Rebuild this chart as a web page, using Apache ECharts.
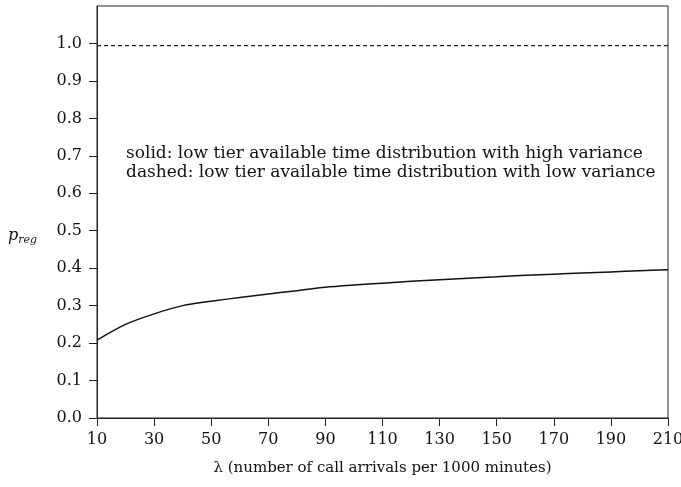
<!DOCTYPE html>
<html>
<head>
<meta charset="utf-8">
<script src="https://cdn.jsdelivr.net/npm/echarts@6/dist/echarts.min.js"></script>
<style>html,body{margin:0;padding:0;background:#fff;}#c{width:681px;height:487px;}</style>
</head>
<body>
<div id="c"></div>
<script>
const lambdaValues = [10,20,30,40,50,60,70,80,90,100,110,120,130,140,150,160,170,180,190,200,210];
const solidValues = [0.208,0.250,0.278,0.300,0.312,0.322,0.331,0.340,0.349,0.355,0.360,0.365,0.369,0.373,0.377,0.381,0.384,0.387,0.390,0.393,0.396];
const dashedValues = [0.994,0.994,0.994,0.994,0.994,0.994,0.994,0.994,0.994,0.994,0.994,0.994,0.994,0.994,0.994,0.994,0.994,0.994,0.994,0.994,0.994];
const xTicks = [10,30,50,70,90,110,130,150,170,190,210];
const yTicks = [0,0.1,0.2,0.3,0.4,0.5,0.6,0.7,0.8,0.9,1.0];
const annotationLines = [
  'solid: low tier available time distribution with high variance',
  'dashed: low tier available time distribution with low variance'
];
const xTitle = 'λ (number of call arrivals per 1000 minutes)';

const FONT = 'DejaVu Serif';
const chart = echarts.init(document.getElementById('c'), null, {renderer: 'canvas'});
chart.setOption({
  animation: false,
  backgroundColor: '#fff',
  grid: {left: 97, right: 13, top: 6, bottom: 69, show: true, borderColor: '#222', borderWidth: 1,
    containLabel: false, outerBoundsMode: 'none'},
  xAxis: {
    type: 'value', min: 10, max: 210,
    axisLine: {show: true, onZero: false, lineStyle: {color: '#222', width: 1}},
    axisTick: {show: true, inside: false, length: 8, customValues: xTicks, lineStyle: {color: '#222'}},
    axisLabel: {customValues: xTicks, color: '#111', fontFamily: FONT, fontSize: 16, margin: 14},
    splitLine: {show: false},
    name: xTitle, nameLocation: 'middle', nameGap: 43,
    nameTextStyle: {color: '#111', fontFamily: FONT, fontSize: 15}
  },
  yAxis: {
    type: 'value', min: 0, max: 1.1,
    axisLine: {show: true, lineStyle: {color: '#222', width: 1}},
    axisTick: {show: true, inside: false, length: 8, customValues: yTicks, lineStyle: {color: '#222'}},
    axisLabel: {customValues: yTicks, color: '#111', fontFamily: FONT, fontSize: 16, margin: 15,
      formatter: v => v.toFixed(1)},
    splitLine: {show: false}
  },
  graphic: [
    {type: 'text', left: 8, top: 228, style: {
      text: '{p|p}{s|reg}', fill: '#111',
      rich: {p: {fontFamily: FONT, fontStyle: 'italic', fontSize: 16}, s: {fontFamily: FONT, fontStyle: 'italic', fontSize: 11, padding: [8,0,0,0]}}
    }},
    {type: 'text', left: 126, top: 145, style: {text: annotationLines[0], fill: '#111', font: '17px "' + FONT + '"'}},
    {type: 'text', left: 126, top: 164, style: {text: annotationLines[1], fill: '#111', font: '17px "' + FONT + '"'}}
  ],
  series: [
    {type: 'line', data: lambdaValues.map((x, i) => [x, solidValues[i]]), smooth: 0.3, showSymbol: false,
      lineStyle: {color: '#111', width: 1.5, type: 'solid'}},
    {type: 'line', data: lambdaValues.map((x, i) => [x, dashedValues[i]]), showSymbol: false,
      lineStyle: {color: '#222', width: 1.2, type: [4, 3]}}
  ]
});
</script>
</body>
</html>
